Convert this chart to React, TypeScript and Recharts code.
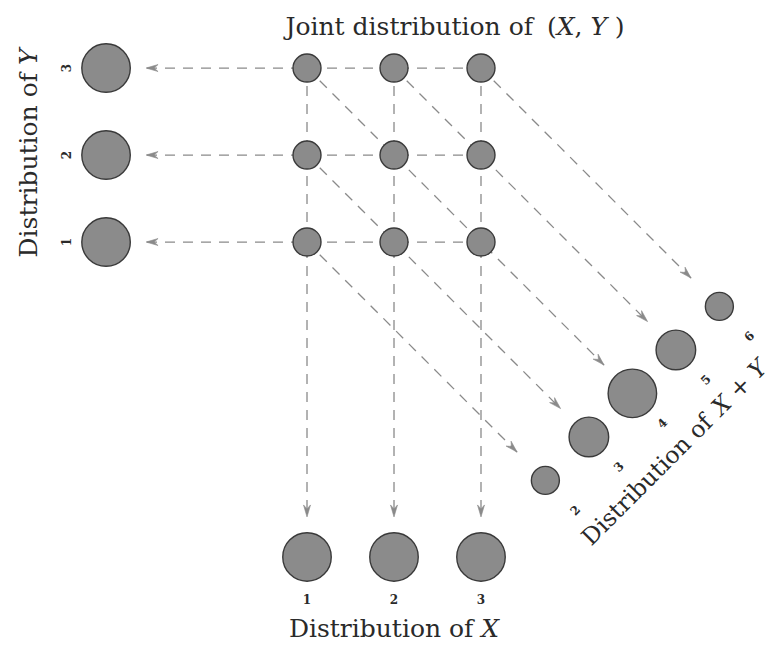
import { ScatterChart, Scatter, XAxis, YAxis, ZAxis } from 'recharts';

// values of X and of Y
const VALUES = [1, 2, 3];
// joint probabilities P(X = x, Y = y), rows are y = 1..3, columns x = 1..3
const JOINT_P = [
    [1 / 9, 1 / 9, 1 / 9],
    [1 / 9, 1 / 9, 1 / 9],
    [1 / 9, 1 / 9, 1 / 9],
];
const P_X = [1 / 3, 1 / 3, 1 / 3];
const P_Y = [1 / 3, 1 / 3, 1 / 3];
const SUMS = [2, 3, 4, 5, 6];
const P_SUM = [1 / 9, 2 / 9, 3 / 9, 2 / 9, 1 / 9];

// layout in data units (one unit = spacing of the joint grid)
const X_DOMAIN: [number, number] = [-2.529, 6.345];
const Y_DOMAIN: [number, number] = [-3.632, 3.782];
const Y_MARGIN_X = -1.31; // column of the Y marginal
const X_MARGIN_Y = -2.62; // row of the X marginal
const SUM_LINE = 5.48; // x - y along the X+Y diagonal
const ARROW_GAP = 0.46; // distance of an arrow tip from the target centre

const FONT = '"DejaVu Serif", serif';
const INK = '#2a2a2a';
const DISC_FILL = '#8b8b8b';
const DISC_STROKE = '#3a3a3a';
const DASH = '#8a8a8a';

const jointData = VALUES.flatMap((y, j) =>
    VALUES.map((x, i) => ({ x, y, z: JOINT_P[j][i] }))
);
const yMarginData = VALUES.map((y, j) => ({ x: Y_MARGIN_X, y, z: P_Y[j], label: String(y) }));
const xMarginData = VALUES.map((x, i) => ({ x, y: X_MARGIN_Y, z: P_X[i], label: String(x) }));
const sumData = SUMS.map((s, k) => ({
    x: (s + SUM_LINE) / 2,
    y: (s - SUM_LINE) / 2,
    z: P_SUM[k],
    label: String(s),
}));

// arrows: start point, tip point, direction of the head
const diagGap = ARROW_GAP / Math.SQRT2;
const arrows = [
    ...VALUES.map((y) => [
        { x: VALUES[2], y },
        { x: Y_MARGIN_X + ARROW_GAP, y, angle: 180 },
    ]),
    ...VALUES.map((x) => [
        { x, y: VALUES[2] },
        { x, y: X_MARGIN_Y + ARROW_GAP, angle: 90 },
    ]),
    ...sumData.map((d, k) => {
        const s = SUMS[k];
        return [
            { x: Math.max(1, s - 3), y: Math.min(3, s - 1) },
            { x: d.x - diagGap, y: d.y + diagGap, angle: 45 },
        ];
    }),
];

const digitStyle = { fontFamily: FONT, fontSize: 12, fontWeight: 700, fill: INK };

const renderDisc = (labelSide?: 'left' | 'below' | 'diag') => (props: any) => {
    const { cx, cy, width, payload } = props;
    const r = width / 2;
    let label = null;
    if (labelSide === 'left') {
        label = (
            <text transform={`translate(${cx - 39},${cy}) rotate(-90)`} textAnchor="middle" dominantBaseline="central" style={digitStyle}>
                {payload.label}
            </text>
        );
    } else if (labelSide === 'below') {
        label = (
            <text x={cx} y={cy + 43} textAnchor="middle" dominantBaseline="central" style={digitStyle}>
                {payload.label}
            </text>
        );
    } else if (labelSide === 'diag') {
        label = (
            <text transform={`translate(${cx + 30},${cy + 30}) rotate(-45)`} textAnchor="middle" dominantBaseline="central" style={digitStyle}>
                {payload.label}
            </text>
        );
    }
    return (
        <g>
            <circle cx={cx} cy={cy} r={r} fill={DISC_FILL} stroke={DISC_STROKE} strokeWidth={1.4} />
            {label}
        </g>
    );
};

const ArrowHead = (props: any) => {
    const { cx, cy, payload } = props;
    if (payload.angle == null) return <g />;
    return (
        <path
            d="M0,0 L-12,-3.5 L-8,0 L-12,3.5 Z"
            transform={`translate(${cx},${cy}) rotate(${payload.angle})`}
            fill={DASH}
            stroke={DASH}
            strokeWidth={0.6}
        />
    );
};

const App = () => {
    return (
        <div style={{ position: 'absolute', left: 0, top: 0, width: 772, height: 645, background: '#fff' }}>
            <ScatterChart width={772} height={645} margin={{ top: 0, right: 0, bottom: 0, left: 0 }}>
                <XAxis type="number" dataKey="x" domain={X_DOMAIN} hide allowDataOverflow />
                <YAxis type="number" dataKey="y" domain={Y_DOMAIN} hide allowDataOverflow />
                <ZAxis type="number" dataKey="z" domain={[0, 1 / 3]} range={[0, 1847]} />

                {arrows.map((pts, k) => (
                    <Scatter
                        key={`arrow-${k}`}
                        data={pts}
                        fill={DASH}
                        line={{ stroke: DASH, strokeWidth: 1.3, strokeDasharray: '10 8' }}
                        lineType="joint"
                        shape={<ArrowHead />}
                        legendType="none"
                        isAnimationActive={false}
                    />
                ))}

                <Scatter data={jointData} shape={renderDisc()} isAnimationActive={false} />
                <Scatter data={yMarginData} shape={renderDisc('left')} isAnimationActive={false} />
                <Scatter data={xMarginData} shape={renderDisc('below')} isAnimationActive={false} />
                <Scatter data={sumData} shape={renderDisc('diag')} isAnimationActive={false} />
            </ScatterChart>

            {/* titles */}
            <svg
                width={772}
                height={645}
                style={{ position: 'absolute', left: 0, top: 0, pointerEvents: 'none' }}
                fontFamily={FONT}
                fontSize={25}
                fill={INK}
            >
                <text x={455} y={35} textAnchor="middle">
                    Joint distribution of <tspan dx={6}>(</tspan>
                    <tspan fontStyle="italic">X</tspan>, <tspan fontStyle="italic">Y</tspan> )
                </text>
                <text transform="translate(37,153) rotate(-90)" textAnchor="middle">
                    Distribution of <tspan fontStyle="italic">Y</tspan>
                </text>
                <text x={394} y={637} textAnchor="middle">
                    Distribution of <tspan fontStyle="italic">X</tspan>
                </text>
                <text transform="translate(680,458) rotate(-45)" textAnchor="middle" fontSize={23.5}>
                    Distribution of <tspan dx={3} fontStyle="italic">X</tspan> + <tspan fontStyle="italic">Y</tspan>
                </text>
            </svg>
        </div>
    );
};

export default App;
